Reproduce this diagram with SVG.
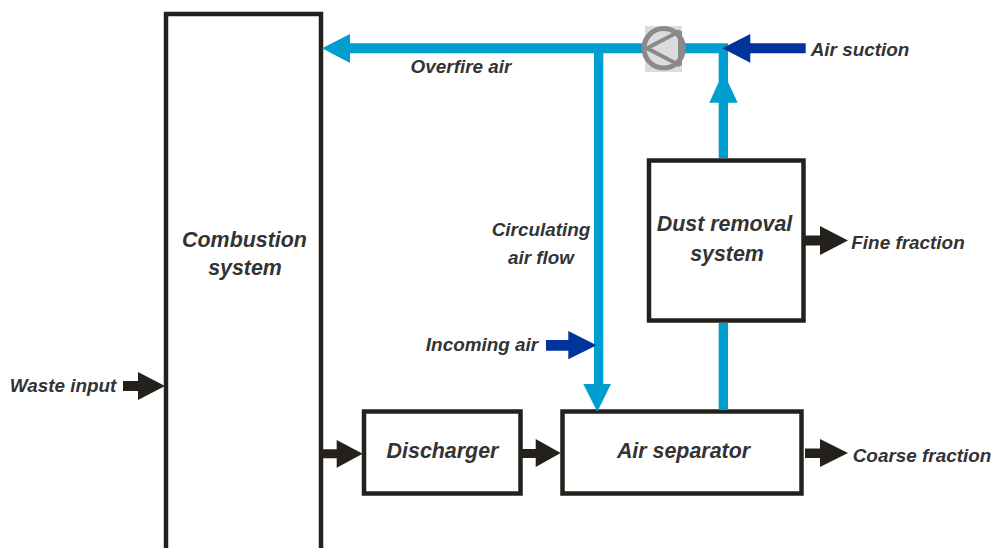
<svg xmlns="http://www.w3.org/2000/svg" width="992" height="548" viewBox="0 0 992 548">
<style>
.box{fill:#fff;stroke:#24211c;stroke-width:4.5}
.t{font-family:"Liberation Sans",Arial,sans-serif;font-weight:bold;font-style:italic;fill:#333;text-anchor:middle}
.s{font-size:18.900px}
.b{font-size:21.400px}
.air{fill:#009ed0}
.in{fill:#00339c}
.mat{fill:#24211c}
</style>
<rect width="992" height="548" fill="#fff"/>
<g id="combustion"><path class="box" d="M166 548V14H321V548"/><text class="t b" x="244.500" y="247">Combustion</text><text class="t b" x="245" y="275">system</text></g>
<g id="discharger"><rect class="box" x="364" y="411.5" width="156.500" height="82"/><text class="t b" x="442.500" y="458">Discharger</text></g>
<g id="separator"><rect class="box" x="562.500" y="411.500" width="239" height="82"/><text class="t b" x="683.500" y="458">Air separator</text></g>
<g id="dust"><rect class="box" x="649" y="160.500" width="154.500" height="160"/><text class="t b" x="724.500" y="231">Dust removal</text><text class="t b" x="727" y="261">system</text></g>
<g id="connectors">
<path class="air" d="M322 48.300 350 34V43.300H728V53.300H350V63Z"/>
<path class="air" d="M594 53H603.300V384H611L597.300 411.700 583.300 384H594Z"/>
<path class="air" d="M718.700 50H728V82L737.700 102.700H728V158H718.700V102.700H709.300L718.700 82Z"/>
<rect class="air" x="718.700" y="323" width="9.300" height="87"/>
<path class="in" d="M722.300 48.300 750.300 34V43.300H805.700V53.300H750.300V62.700Z"/>
<path class="in" d="M546 340H568.300V331L596.700 345.300 568.300 359.300V350.700H546Z"/>
<path class="mat" d="M123 381H138V372L165 386 138 400V391H123Z"/>
<path class="mat" d="M322 449.300H336.700V440L362.700 453.800 336.700 467.700V458.300H322Z"/>
<path class="mat" d="M522 449H535.700V439L560.700 453 535.700 467V458H522Z"/>
<path class="mat" d="M805 235.500H820V226L848 240.500 820 255V245.500H805Z"/>
<path class="mat" d="M805 448.500H820V439L848 453 820 467V458H805Z"/>
</g>
<g id="fan">
<rect x="645" y="26" width="37" height="46" fill="#dcdcdc"/>
<circle cx="663.700" cy="48.300" r="19.700" fill="none" stroke="#8a8a8a" stroke-width="5"/>
<path d="M680 31 647 48.300 680 65.500M680 31V65.500" fill="none" stroke="#8a8a8a" stroke-width="4"/>
</g>
<g id="labels">
<text class="t s" x="461" y="73">Overfire air</text>
<text class="t s" x="860" y="56">Air suction</text>
<text class="t s" x="541" y="236">Circulating</text>
<text class="t s" x="541" y="264">air flow</text>
<text class="t s" x="482" y="351">Incoming air</text>
<text class="t s" x="63" y="392">Waste input</text>
<text class="t s" x="908" y="248.500">Fine fraction</text>
<text class="t s" x="922" y="461.500">Coarse fraction</text>
</g>
</svg>
